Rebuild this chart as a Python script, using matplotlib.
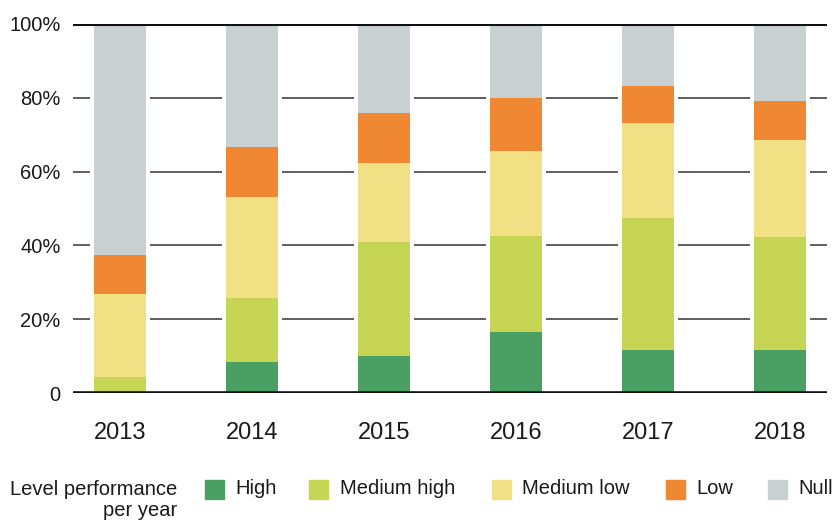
import matplotlib
matplotlib.use("Agg")
import matplotlib.pyplot as plt
from matplotlib.patches import Rectangle
import numpy as np

years = ["2013", "2014", "2015", "2016", "2017", "2018"]
series_names = ["High", "Medium high", "Medium low", "Low", "Null"]
high = [0.0, 8.5, 10.1, 16.6, 11.7, 11.7]
medium_high = [4.4, 17.3, 30.9, 25.9, 35.7, 30.6]
medium_low = [22.5, 27.3, 21.3, 23.0, 25.7, 26.1]
low = [10.5, 13.5, 13.5, 14.4, 10.0, 10.7]
null = [62.6, 33.4, 24.2, 20.1, 16.9, 20.9]
colors = ["#4a9f63", "#c6d654", "#f2e085", "#f08733", "#c8d0d1"]
yticks = [0, 20, 40, 60, 80, 100]
ytick_labels = ["0", "20%", "40%", "60%", "80%", "100%"]
legend_title = "Level performance\nper year"

plt.rcParams['font.family'] = ['Liberation Sans', 'DejaVu Sans']
TXT = "#1a1a1a"

W, H = 833, 521
fig = plt.figure(figsize=(W / 100, H / 100), dpi=100)
ax = fig.add_axes([73 / W, 1 - 393.3 / H, (827 - 73) / W, (393.3 - 23.7) / H])

x = np.arange(len(years))
bw = 0.4
data = [high, medium_high, medium_low, low, null]

# gridlines
for yv in yticks[1:-1]:
    ax.axhline(yv, color="#333333", lw=1.1, zorder=1)
# white gap behind bars
ax.bar(x, [100] * len(x), width=bw + 0.05, color="white", zorder=2)
bottom = np.zeros(len(x))
for vals, c in zip(data, colors):
    ax.bar(x, vals, width=bw, bottom=bottom, color=c, zorder=3, linewidth=0)
    bottom += np.array(vals)
ax.axhline(100, color="#111111", lw=2.2, zorder=4)
ax.axhline(0, color="#111111", lw=2.6, zorder=4)

ax.set_xlim(-0.356, len(x) - 1 + 0.356)
ax.set_ylim(0, 100)
ax.set_yticks(yticks)
ax.set_yticklabels(ytick_labels, fontsize=14.5, color=TXT)
ax.set_xticks(x)
ax.set_xticklabels(years, fontsize=17, color=TXT)
ax.tick_params(axis="both", length=0)
ax.tick_params(axis="y", pad=9)
ax.tick_params(axis="x", pad=21)
for s in ax.spines.values():
    s.set_visible(False)

# legend drawn manually
fig.text(177 / W, 1 - 500 / H, legend_title, ha="right", va="center",
         fontsize=14.5, color=TXT, linespacing=1.1)
patch_x = [205, 309, 492, 666, 768]
text_x = [235, 340, 522, 696, 798]
for name, c, px, tx in zip(series_names, colors, patch_x, text_x):
    fig.patches.append(Rectangle((px / W, 1 - 499 / H), 19 / W, 19 / H,
                                 transform=fig.transFigure, color=c))
    fig.text(tx / W, 1 - 489 / H, name, ha="left", va="center",
             fontsize=14.5, color=TXT)

fig.savefig("out.png", dpi=100)
